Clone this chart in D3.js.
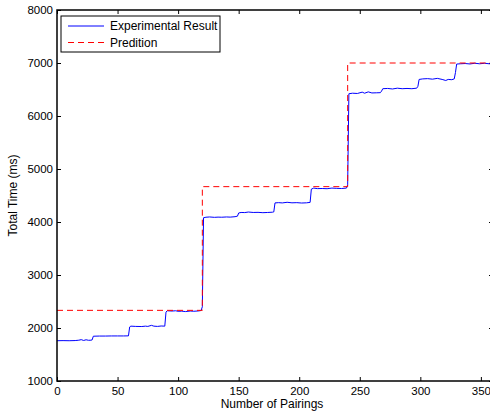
<!DOCTYPE html>
<html>
<head>
<meta charset="utf-8">
<title>Total time vs pairings</title>
<script src="https://d3js.org/d3.v7.min.js"></script>
<style>
  body { margin: 0; background: #fff; }
  svg { font-family: "Liberation Sans", Arial, sans-serif; }
  .axis text { font-size: 11.5px; fill: #000; }
  .axis line { stroke: #000; }
  .axis path { display: none; }
</style>
</head>
<body>
<div id="chart"></div>
<script>
var expX = [0, 5, 10, 15, 18, 20, 22, 24, 26, 28, 29,
  30, 35, 40, 45, 50, 55, 59,
  60, 61, 65, 70, 73, 75, 78, 80, 83, 86, 89,
  90, 91, 95, 98, 100, 103, 106, 110, 113, 117, 119, 120,
  121, 123, 126, 130, 133, 136, 140, 143, 147, 149,
  150, 152, 155, 158, 162, 166, 170, 174, 178, 179,
  180, 183, 186, 190, 194, 198, 202, 206, 209,
  210, 212, 215, 219, 223, 227, 231, 235, 239, 240,
  241, 244, 248, 252, 254, 257, 260, 264, 267, 268,
  269, 273, 277, 281, 285, 289, 293, 297, 298,
  299, 302, 306, 310, 314, 318, 321, 323, 326, 328, 329,
  330, 333, 337, 341, 345, 349, 353, 357, 360];
var expY = [1760, 1762, 1760, 1763, 1770, 1780, 1765, 1778, 1768, 1770, 1775,
  1845, 1848, 1848, 1850, 1850, 1850, 1852,
  2020, 2035, 2030, 2028, 2035, 2030, 2050, 2035, 2030, 2038, 2035,
  2300, 2325, 2320, 2325, 2315, 2318, 2310, 2320, 2316, 2322, 2330, 2400,
  4080, 4090, 4095, 4088, 4092, 4090, 4095, 4092, 4100, 4110,
  4170, 4180, 4178, 4188, 4180, 4182, 4176, 4180, 4185, 4190,
  4360, 4365, 4360, 4372, 4362, 4365, 4358, 4362, 4370,
  4620, 4640, 4630, 4632, 4628, 4640, 4635, 4632, 4640, 4700,
  6420, 6430, 6425, 6450, 6430, 6455, 6435, 6438, 6440, 6470,
  6515, 6520, 6510, 6525, 6515, 6520, 6515, 6525, 6560,
  6690, 6700, 6705, 6695, 6710, 6690, 6670, 6690, 6685, 6700, 6820,
  6980, 6985, 6990, 6982, 6995, 6985, 6995, 6985, 6990];

// Prediction
var predX = [0, 120, 120, 240, 240, 360];
var predY = [2333, 2333, 4667, 4667, 7000, 7000];

var xTicks = [0, 50, 100, 150, 200, 250, 300, 350];
var yTicks = [1000, 2000, 3000, 4000, 5000, 6000, 7000, 8000];
var legendLabels = ["Experimental Result", "Predition"];

var width = 490, height = 417;
var margin = {left: 57, top: 10, right: -3, bottom: 36};
var plotW = width - margin.left - margin.right;
var plotH = height - margin.top - margin.bottom;

var svg = d3.select("#chart").append("svg")
  .attr("width", width)
  .attr("height", height);

var g = svg.append("g")
  .attr("transform", "translate(" + margin.left + "," + margin.top + ")");

var x = d3.scaleLinear().domain([0, 360]).range([0, plotW]);
var y = d3.scaleLinear().domain([1000, 8000]).range([plotH, 0]);

// axes with inward ticks, on all four sides
g.append("g").attr("class", "axis")
  .attr("transform", "translate(0," + plotH + ")")
  .call(d3.axisBottom(x).tickValues(xTicks).tickSize(-4).tickPadding(6));
g.append("g").attr("class", "axis")
  .call(d3.axisLeft(y).tickValues(yTicks).tickSize(-4).tickPadding(4).tickFormat(d3.format("d")));
g.append("g").attr("class", "axis")
  .call(d3.axisTop(x).tickValues(xTicks).tickSize(-4).tickFormat(""));
g.append("g").attr("class", "axis")
  .attr("transform", "translate(" + plotW + ",0)")
  .call(d3.axisRight(y).tickValues(yTicks).tickSize(-4).tickFormat(""));

var line = d3.line()
  .x(function (d) { return x(d[0]); })
  .y(function (d) { return y(d[1]); });

var expData = expX.map(function (v, i) { return [v, expY[i]]; });
var predData = predX.map(function (v, i) { return [v, predY[i]]; });

g.append("path")
  .datum(expData)
  .attr("d", line)
  .attr("fill", "none")
  .attr("stroke", "#0000ff")
  .attr("stroke-width", 1);

g.append("path")
  .datum(predData)
  .attr("d", line)
  .attr("fill", "none")
  .attr("stroke", "#ff0000")
  .attr("stroke-width", 1)
  .attr("stroke-dasharray", "6,4");

// frame
g.append("rect")
  .attr("width", plotW)
  .attr("height", plotH)
  .attr("fill", "none")
  .attr("stroke", "#000")
  .attr("stroke-width", 1.5);

// axis labels
svg.append("text")
  .attr("x", 272)
  .attr("y", 408)
  .attr("text-anchor", "middle")
  .attr("font-size", 12)
  .text("Number of Pairings");

svg.append("text")
  .attr("transform", "translate(17," + (margin.top + plotH / 2) + ") rotate(-90)")
  .attr("text-anchor", "middle")
  .attr("font-size", 12)
  .text("Total Time (ms)");

// legend
var legend = svg.append("g").attr("transform", "translate(61,16)");
legend.append("rect")
  .attr("width", 159)
  .attr("height", 36)
  .attr("fill", "#fff")
  .attr("stroke", "#000")
  .attr("stroke-width", 1);
var styles = [{c: "#0000ff", d: null}, {c: "#ff0000", d: "6,4"}];
legendLabels.forEach(function (lab, i) {
  var ly = 10 + i * 16.5;
  legend.append("line")
    .attr("x1", 7).attr("x2", 43)
    .attr("y1", ly).attr("y2", ly)
    .attr("stroke", styles[i].c)
    .attr("stroke-width", 1)
    .attr("stroke-dasharray", styles[i].d);
  legend.append("text")
    .attr("x", 49)
    .attr("y", ly + 4)
    .attr("font-size", 12)
    .text(lab);
});
</script>
</body>
</html>
